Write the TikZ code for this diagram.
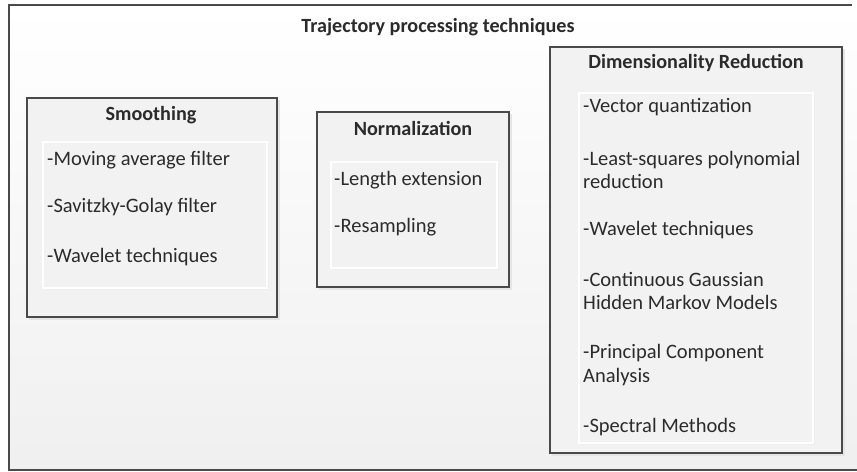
\documentclass[tikz,border=0pt]{standalone}
\usepackage{fontspec}
\setmainfont{Carlito}
\usepackage{xcolor}
\definecolor{edge}{HTML}{4A4A4A}
\definecolor{ink}{HTML}{2B2B2B}
\definecolor{panel}{HTML}{F2F2F2}

\begin{document}
\begin{tikzpicture}[x=0.03cm,y=-0.03cm,
        box/.style={draw=edge,line width=1.2pt,fill=panel},
        shade box/.style={fill=black!10},
        inner/.style={draw=white,line width=1pt,fill=panel},
        head/.style={font=\bfseries\fontsize{17.2}{20.4}\selectfont,text=ink,inner sep=0pt},
        item/.style={font=\fontsize{17.5}{20.4}\selectfont,text=ink,anchor=west,align=left,inner sep=0pt}]
        \useasboundingbox (0,0) rectangle (857,472);
        \fill[top color=white,bottom color=black!6] (9,5) rectangle (857,470);
        \draw[edge,line width=0.9pt] (852,5)--(9,5)--(9,470)--(857,470);

        \node[head] (title) at (438,27) {Trajectory processing techniques};

        % smoothing
        \fill[shade box] (29,100) rectangle (280,320);
        \draw[box] (27,98) rectangle (277,317);
        \fill[black!7] (45,144) rectangle (269,290);
        \draw[inner] (43,142) rectangle (267,288);
        \node[head] (smooth) at (151,115) {Smoothing};
        \node[item] (avg) at (47,160) {-Moving average filter};
        \node[item] (savgol) at (47,207) {-Savitzky-Golay filter};
        \node[item] (wave1) at (47,257) {-Wavelet techniques};

        % normalization
        \fill[shade box] (319,114) rectangle (512,290);
        \draw[box] (317,112) rectangle (509,287);
        \fill[black!7] (333,164) rectangle (499,270);
        \draw[inner] (331,162) rectangle (497,268);
        \node[head] (norm) at (413,128) {Normalization};
        \node[item] (length) at (334,180) {-Length extension};
        \node[item] (resamp) at (334,227) {-Resampling};

        % dimensionality reduction
        \fill[shade box] (552,49) rectangle (845,456);
        \draw[box] (550,47) rectangle (842,453);
        \fill[black!7] (581,95) rectangle (815,445);
        \draw[inner] (579,93) rectangle (813,443);
        \node[head] (dim) at (696,63) {Dimensionality Reduction};
        \node[item] (vq) at (583,107) {-Vector quantization};
        \node[item] (lsq) at (583,170) {-Least-squares polynomial\\reduction};
        \node[item] (wave2) at (583,230) {-Wavelet techniques};
        \node[item] (hmm) at (583,291) {-Continuous Gaussian\\Hidden Markov Models};
        \node[item] (pca) at (583,365) {-Principal Component\\Analysis};
        \node[item] (spec) at (583,427) {-Spectral Methods};
      \end{tikzpicture}
\end{document}
